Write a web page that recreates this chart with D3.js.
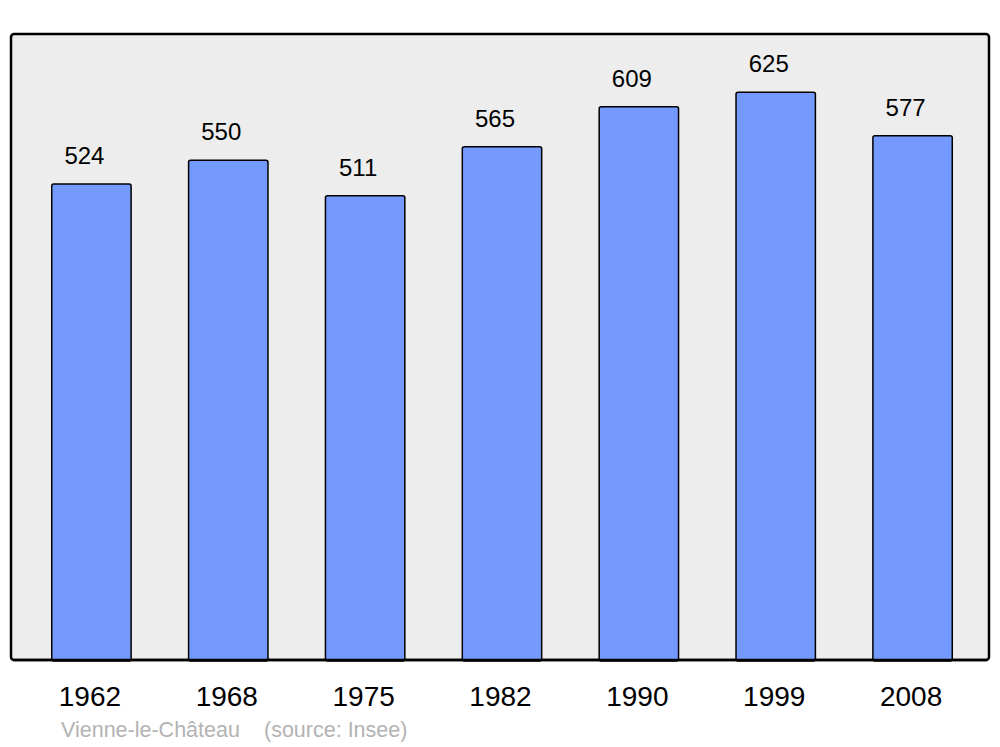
<!DOCTYPE html>
<html><head><meta charset="utf-8">
<script src="https://cdn.jsdelivr.net/npm/d3@7"></script>
<style>body{margin:0;background:#fff}svg{display:block}</style>
</head><body>
<script>
const years = ["1962","1968","1975","1982","1990","1999","2008"];
const population = [524,550,511,565,609,625,577];
const caption = ["Vienne-le-Château", "(source: Insee)"];

const W = 1000, H = 747;
const svg = d3.select("body").append("svg").attr("width", W).attr("height", H);
const font = "'Liberation Sans', Arial, sans-serif";

const panel = {x0: 11, y0: 34, x1: 989, y1: 660};
svg.append("rect").attr("x", panel.x0).attr("y", panel.y0)
  .attr("width", panel.x1 - panel.x0).attr("height", panel.y1 - panel.y0)
  .attr("rx", 3).attr("fill", "#ededed").attr("stroke", "#000").attr("stroke-width", 2.5);

const x = d3.scaleBand().domain(years).range([23, 981]).paddingInner(0.42).paddingOuter(0.21);
const y = d3.scaleLinear().domain([0, 689]).range([panel.y1, panel.y0]);

const data = years.map((yr, i) => ({yr, v: population[i]}));

svg.selectAll("rect.bar").data(data).enter().append("rect").attr("class", "bar")
  .attr("x", d => x(d.yr)).attr("y", d => y(d.v))
  .attr("width", x.bandwidth()).attr("height", d => y(0) - y(d.v) + 1)
  .attr("rx", 2).attr("fill", "#7499ff").attr("stroke", "#000").attr("stroke-width", 1.5);

svg.append("line").attr("x1", panel.x0 + 2).attr("x2", panel.x1 - 2).attr("y1", panel.y1).attr("y2", panel.y1)
  .attr("stroke", "#000").attr("stroke-width", 2.5);

svg.selectAll("text.val").data(data).enter().append("text").attr("class", "val")
  .attr("x", d => x(d.yr) + x.bandwidth() / 2 - 7).attr("y", d => y(d.v) - 20)
  .attr("text-anchor", "middle").attr("font-family", font).attr("font-size", 24)
  .attr("fill", "#000").text(d => d.v);

const xAxis = svg.append("g").attr("transform", `translate(0,${panel.y1})`)
  .call(d3.axisBottom(x).tickSize(0).tickPadding(0));
xAxis.select(".domain").remove();
xAxis.selectAll("text").attr("font-family", font).attr("font-size", 28).attr("fill", "#000")
  .attr("dy", null).attr("y", 46).attr("dx", -1.5);

svg.append("text").attr("x", 61).attr("y", 737).attr("font-family", font).attr("font-size", 21.5)
  .attr("fill", "#b3b3b3").text(caption[0]);
svg.append("text").attr("x", 264).attr("y", 737).attr("font-family", font).attr("font-size", 21.5)
  .attr("fill", "#b3b3b3").text(caption[1]);
</script>
</body></html>
